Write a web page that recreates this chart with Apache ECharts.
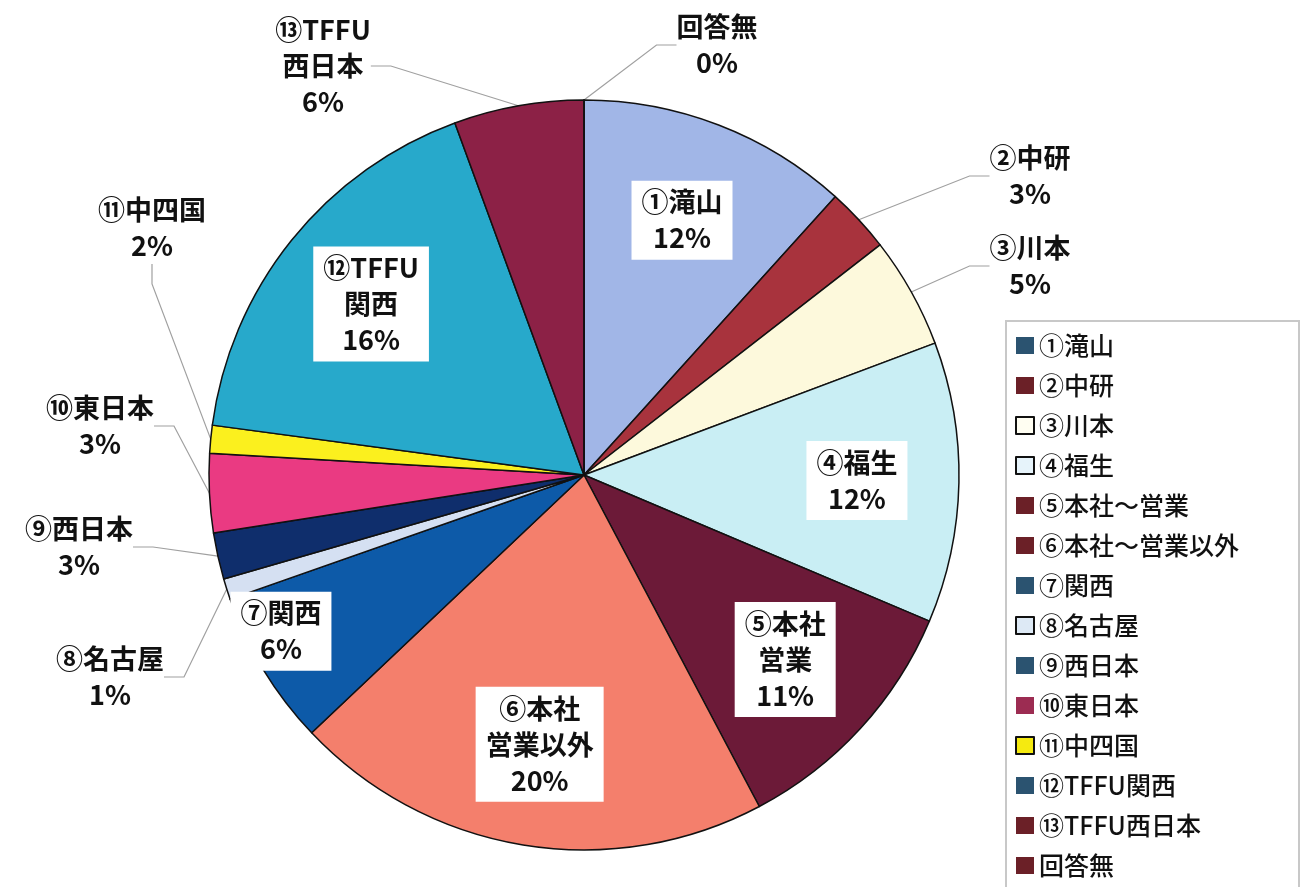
<!DOCTYPE html>
<html>
<head>
<meta charset="utf-8">
<script src="https://cdn.jsdelivr.net/npm/echarts@6/dist/echarts.min.js"></script>
<style>
html, body { margin: 0; padding: 0; background: #fff; }
#main { width: 1307px; height: 887px; }
</style>
</head>
<body>
<div id="main"></div>
<script>
// 凡例の名前
var names = ['①滝山', '②中研', '③川本', '④福生', '⑤本社～営業', '⑥本社～営業以外', '⑦関西',
  '⑧名古屋', '⑨西日本', '⑩東日本', '⑪中四国', '⑫TFFU関西', '⑬TFFU西日本', '回答無'];
// 円グラフ上のラベル
var labelNames = ['①滝山', '②中研', '③川本', '④福生', '⑤本社\n営業', '⑥本社\n営業以外', '⑦関西',
  '⑧名古屋', '⑨西日本', '⑩東日本', '⑪中四国', '⑫TFFU\n関西', '⑬TFFU\n西日本', '回答無'];
// 構成比
var shares = [11.7, 2.8, 4.8, 12.1, 10.9, 20.7, 6.7, 0.9, 2.0, 3.4, 1.2, 17.3, 5.6, 0];
// 表示されている%
var pctText = ['12%', '3%', '5%', '12%', '11%', '20%', '6%', '1%', '3%', '3%', '2%', '16%', '6%', '0%'];

var sliceColors = ['#a1b6e7', '#a8333d', '#fdf9dc', '#c9eef4', '#6c1a38', '#f47f6c', '#0d5aa8',
  '#d5e0f2', '#0f2e6c', '#ea3a82', '#fbf01e', '#27a9cb', '#8c2146', '#6b2027'];
// 凡例マーカーの色（スキャンの凡例そのまま）
var legendColors = ['#2b5370', '#6b2027', '#fffef2', '#e6f3fa', '#6b2027', '#6b2027', '#2b5370',
  '#dde9f5', '#2b5370', '#9c2c52', '#f5ea10', '#2b5370', '#6b2027', '#6b2027'];
var legendBorder = [false, false, true, true, false, false, false, true, false, false, true, false, false, false];

// 内側にラベルを置くもの
var insideIdx = [0, 3, 4, 5, 6, 11];
// 外側ラベルの位置（テキストブロックの中心）
var outsideSpots = {
  1: [1030, 176], 2: [1030, 266], 7: [110, 677], 8: [79, 547],
  9: [100, 426], 10: [152, 228], 12: [323, 66], 13: [717, 45]
};

var labelFont = {
  fontFamily: 'Noto Sans CJK JP',
  fontWeight: 'bold',
  fontSize: 27,
  lineHeight: 36,
  color: '#111',
  align: 'center'
};

var pieData = [], labelData = [];
for (var i = 0; i < names.length; i++) {
  var inside = insideIdx.indexOf(i) >= 0;
  pieData.push({
    name: names[i],
    value: shares[i],
    itemStyle: { color: sliceColors[i] },
    label: { show: !inside },
    labelLine: { show: !inside }
  });
  labelData.push({
    name: names[i],
    value: shares[i],
    label: { show: inside }
  });
}

var legendData = names.map(function (n, i) {
  return {
    name: n,
    icon: 'rect',
    itemStyle: {
      color: legendColors[i],
      borderColor: legendBorder[i] ? '#111' : legendColors[i],
      borderWidth: legendBorder[i] ? 2 : 0
    }
  };
});

var myChart = echarts.init(document.getElementById('main'));
var option = {
  animation: false,
  backgroundColor: '#fff',
  legend: {
    orient: 'vertical',
    left: 1006,
    top: 321,
    height: 620,
    padding: [12, 60, 12, 9],
    itemWidth: 18,
    itemHeight: 17,
    itemGap: 15,
    borderColor: '#c8c8c8',
    borderWidth: 2,
    selectedMode: false,
    textStyle: {
      fontFamily: 'Noto Sans CJK JP',
      fontWeight: 500,
      fontSize: 25,
      lineHeight: 24,
      color: '#111'
    },
    data: legendData
  },
  series: [
    {
      type: 'pie',
      center: [584, 475],
      radius: 375,
      startAngle: 90,
      clockwise: true,
      avoidLabelOverlap: false,
      itemStyle: { borderColor: '#111', borderWidth: 1.5 },
      emphasis: { disabled: true },
      label: Object.assign({
        position: 'outside',
        formatter: function (p) { return labelNames[p.dataIndex] + '\n' + pctText[p.dataIndex]; }
      }, labelFont),
      labelLine: {
        length: 30,
        length2: 20,
        lineStyle: { color: '#a0a0a0', width: 1.2 }
      },
      labelLayout: function (p) {
        var s = outsideSpots[p.dataIndex];
        if (!s) return {};
        return { x: s[0], y: s[1], align: 'center', verticalAlign: 'middle' };
      },
      data: pieData
    },
    {
      // ラベル専用の透明な円（内側ラベルを半径の約72%に置くため）
      type: 'pie',
      center: [584, 475],
      radius: 540,
      startAngle: 90,
      clockwise: true,
      silent: true,
      itemStyle: { color: 'rgba(0,0,0,0)', borderWidth: 0 },
      emphasis: { disabled: true },
      label: Object.assign({
        position: 'inside',
        backgroundColor: '#fff',
        padding: [4, 10, 3, 10],
        formatter: function (p) { return labelNames[p.dataIndex] + '\n' + pctText[p.dataIndex]; }
      }, labelFont),
      labelLine: { show: false },
      labelLayout: function (p) {
        if (p.dataIndex === 6) return { dx: -70, dy: 14 };
        return {};
      },
      data: labelData
    }
  ]
};
myChart.setOption(option);
</script>
</body>
</html>
